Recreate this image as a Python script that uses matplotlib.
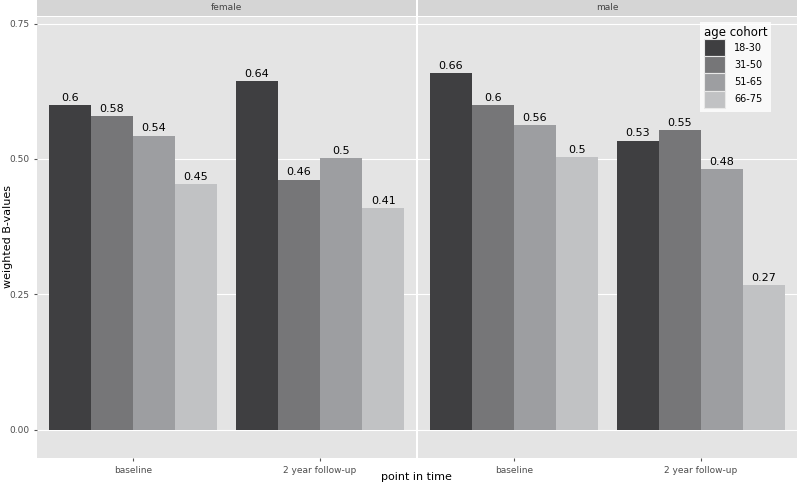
import matplotlib
matplotlib.use("Agg")
import matplotlib.pyplot as plt
from matplotlib.patches import Patch

# data
time_points = ["baseline", "2 year follow-up"]
cohorts = ["18-30", "31-50", "51-65", "66-75"]
female = {
    "baseline": [0.599, 0.579, 0.543, 0.454],
    "2 year follow-up": [0.643, 0.462, 0.501, 0.409],
}
male = {
    "baseline": [0.658, 0.599, 0.562, 0.503],
    "2 year follow-up": [0.534, 0.554, 0.481, 0.267],
}
colors = ["#3f3f41", "#767678", "#9d9ea1", "#c1c2c4"]

W, H = 800, 484
panel_bg = "#e4e4e4"
strip_bg = "#d5d5d5"

fig = plt.figure(figsize=(W / 100, H / 100), dpi=100)
fig.patch.set_facecolor("white")


def px_axes(x0, y0, x1, y1):
    return fig.add_axes([x0 / W, 1 - y1 / H, (x1 - x0) / W, (y1 - y0) / H])


def draw_panel(ax, data, show_y):
    ax.set_facecolor(panel_bg)
    width = 0.9 / len(cohorts)
    for ti, tp in enumerate(time_points):
        vals = data[tp]
        for ci, v in enumerate(vals):
            x = ti + 1 - 0.45 + width * (ci + 0.5)
            ax.bar(x, v, width=width, color=colors[ci], zorder=3)
            ax.text(x, v + 0.004, f"{round(v, 2):g}", ha="center", va="bottom",
                    fontsize=8, color="black", zorder=4)
    ax.set_xlim(0.487, 2.513)
    ax.set_ylim(-0.052, 0.762)
    ax.set_yticks([0, 0.25, 0.5, 0.75])
    ax.set_xticks([1, 2])
    ax.set_xticklabels(time_points, fontsize=6.5, color="#4d4d4d")
    ax.grid(True, which="major", axis="y", color="white", linewidth=0.8, zorder=0)
    ax.set_axisbelow(True)
    for s in ax.spines.values():
        s.set_visible(False)
    ax.tick_params(axis="both", which="major", length=2.5, color="#555555", pad=3)
    if show_y:
        ax.set_yticklabels(["0.00", "0.25", "0.50", "0.75"], fontsize=6.5, color="#4d4d4d")
    else:
        ax.tick_params(axis="y", which="major", length=0, labelleft=False)


def draw_strip(x0, x1, label):
    sax = px_axes(x0, 0, x1, 16)
    sax.set_facecolor(strip_bg)
    sax.set_xticks([])
    sax.set_yticks([])
    for s in sax.spines.values():
        s.set_visible(False)
    sax.text(0.5, 0.5, label, ha="center", va="center", fontsize=6.5,
             color="#444444", transform=sax.transAxes)


ax1 = px_axes(37, 17, 416, 458)
draw_panel(ax1, female, True)
draw_strip(37, 416, "female")

ax2 = px_axes(418, 17, 797, 458)
draw_panel(ax2, male, False)
draw_strip(418, 797, "male")

fig.text(416 / W, 1 - 477 / H, "point in time", ha="center", va="center",
         fontsize=8, color="black")
fig.text(8 / W, 1 - 237 / H, "weighted B-values", ha="center", va="center",
         rotation=90, fontsize=8, color="black")

handles = [Patch(facecolor=c, edgecolor="#e8e8e8", linewidth=0.8, label=l)
           for c, l in zip(colors, cohorts)]
leg = ax2.legend(handles=handles, title="age cohort", loc="upper left",
                 bbox_to_anchor=(700 / W, 1 - 22 / H), bbox_transform=fig.transFigure,
                 fontsize=7, title_fontsize=8.5, frameon=True, fancybox=False,
                 handlelength=2.2, handleheight=2.35, labelspacing=0.0,
                 handletextpad=0.9, borderpad=0.4, borderaxespad=0)
leg.get_frame().set_facecolor("white")
leg.get_frame().set_edgecolor("white")
leg.get_frame().set_linewidth(0)
leg._legend_box.align = "left"

fig.savefig("out.png", dpi=100, facecolor="white")
